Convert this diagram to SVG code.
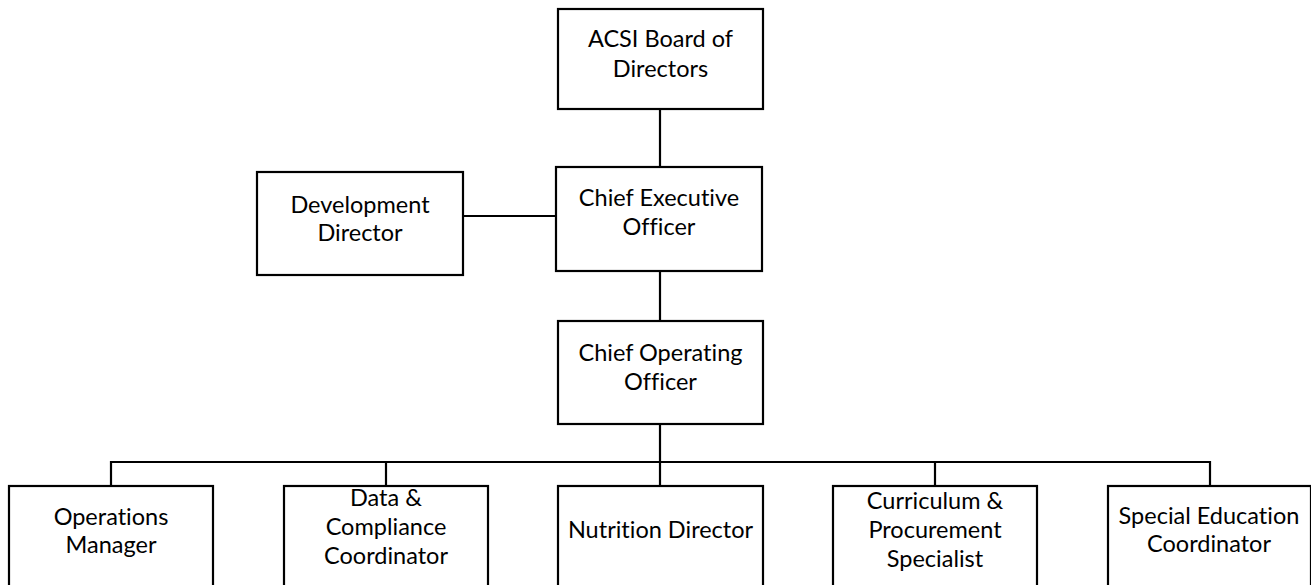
<svg xmlns="http://www.w3.org/2000/svg" width="1311" height="585" viewBox="0 0 1311 585">
  <style>
    .box { fill: #ffffff; stroke: #000000; stroke-width: 2.2; }
    .lbl { font-family: Lato, "Liberation Sans", sans-serif; font-size: 23.5px; fill: #000000; text-anchor: middle; font-variant-ligatures: none; }
    .wire { fill: none; stroke: #000000; stroke-width: 2.2; }
  </style>
  <rect width="1311" height="585" fill="#ffffff"/>

  <!-- reporting lines -->
  <g id="connectors">
    <line class="wire" x1="660" y1="109" x2="660" y2="167"/>
    <line class="wire" x1="463" y1="216" x2="556" y2="216"/>
    <line class="wire" x1="660" y1="271" x2="660" y2="321"/>
    <line class="wire" x1="660" y1="424" x2="660" y2="486"/>
    <line class="wire" x1="111" y1="462" x2="1210" y2="462"/>
    <line class="wire" x1="111" y1="461" x2="111" y2="486"/>
    <line class="wire" x1="386" y1="462" x2="386" y2="486"/>
    <line class="wire" x1="935" y1="462" x2="935" y2="486"/>
    <line class="wire" x1="1210" y1="461" x2="1210" y2="486"/>
  </g>

  <g id="board">
    <rect class="box" x="558" y="9" width="205" height="100"/>
    <text class="lbl" x="660.5" y="47">ACSI Board of</text>
    <text class="lbl" x="660.5" y="77">Directors</text>
  </g>

  <g id="ceo">
    <rect class="box" x="556" y="167" width="206" height="104"/>
    <text class="lbl" x="659" y="206">Chief Executive</text>
    <text class="lbl" x="659" y="235">Officer</text>
  </g>

  <g id="development-director">
    <rect class="box" x="257" y="172" width="206" height="103"/>
    <text class="lbl" x="360" y="213">Development</text>
    <text class="lbl" x="360" y="241">Director</text>
  </g>

  <g id="coo">
    <rect class="box" x="558" y="321" width="205" height="103"/>
    <text class="lbl" x="660.5" y="361">Chief Operating</text>
    <text class="lbl" x="660.5" y="390">Officer</text>
  </g>

  <g id="operations-manager">
    <rect class="box" x="9" y="486" width="204" height="120"/>
    <text class="lbl" x="111" y="525">Operations</text>
    <text class="lbl" x="111" y="553">Manager</text>
  </g>

  <g id="data-compliance">
    <rect class="box" x="284" y="486" width="204" height="120"/>
    <text class="lbl" x="386" y="506">Data &amp;</text>
    <text class="lbl" x="386" y="535">Compliance</text>
    <text class="lbl" x="386" y="564">Coordinator</text>
  </g>

  <g id="nutrition-director">
    <rect class="box" x="558" y="486" width="205" height="120"/>
    <text class="lbl" x="660.5" y="538">Nutrition Director</text>
  </g>

  <g id="curriculum-procurement">
    <rect class="box" x="833" y="486" width="204" height="120"/>
    <text class="lbl" x="935" y="509">Curriculum &amp;</text>
    <text class="lbl" x="935" y="538">Procurement</text>
    <text class="lbl" x="935" y="567">Specialist</text>
  </g>

  <g id="special-education">
    <rect class="box" x="1108" y="486" width="203" height="120"/>
    <text class="lbl" x="1209" y="524">Special Education</text>
    <text class="lbl" x="1209" y="552">Coordinator</text>
  </g>
</svg>
